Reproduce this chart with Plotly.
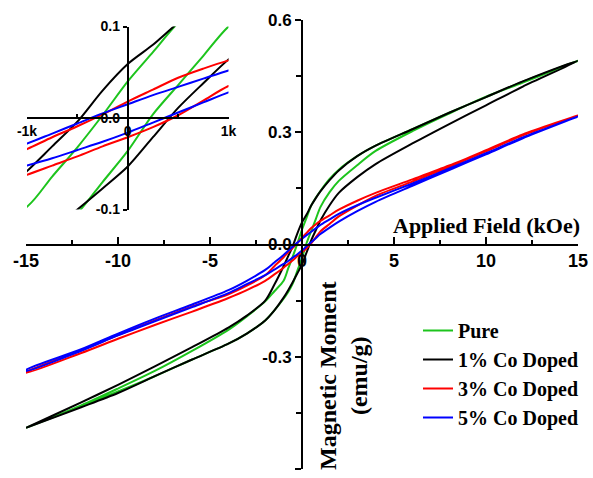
import plotly.graph_objects as go

# Applied field grid (kOe), ascending
H = [-15, -12, -10, -8, -6, -4, -3, -2, -1.5, -1, -0.75, -0.5, -0.25, 0,
     0.25, 0.5, 0.75, 1, 1.5, 2, 3, 4, 6, 8, 10, 12, 15]

# Magnetic moment (emu/g): descending-field branch and ascending-field branch
pure_desc = [-0.490, -0.430, -0.385, -0.338, -0.285, -0.228, -0.192, -0.152, -0.125, -0.097,
             -0.064, -0.032, 0.003, 0.040, 0.072, 0.104, 0.125, 0.143, 0.175, 0.200,
             0.236, 0.264, 0.308, 0.352, 0.394, 0.435, 0.491]
pure_asc = [-0.490, -0.432, -0.393, -0.352, -0.308, -0.265, -0.238, -0.203, -0.176, -0.145,
            -0.127, -0.104, -0.070, -0.036, 0.004, 0.036, 0.068, 0.100, 0.140, 0.170,
            0.212, 0.250, 0.303, 0.350, 0.395, 0.433, 0.491]
co1_desc = [-0.490, -0.422, -0.375, -0.326, -0.275, -0.222, -0.190, -0.150, -0.107, -0.058,
            -0.031, -0.004, 0.030, 0.059, 0.080, 0.104, 0.124, 0.142, 0.172, 0.198,
            0.236, 0.264, 0.308, 0.352, 0.394, 0.436, 0.491]
co1_asc = [-0.490, -0.435, -0.397, -0.352, -0.308, -0.265, -0.238, -0.203, -0.176, -0.142,
           -0.122, -0.100, -0.077, -0.053, -0.021, 0.011, 0.038, 0.064, 0.105, 0.138,
           0.180, 0.215, 0.270, 0.322, 0.372, 0.422, 0.491]
co3_desc = [-0.341, -0.283, -0.242, -0.203, -0.166, -0.133, -0.110, -0.082, -0.058, -0.034,
            -0.021, -0.009, 0.004, 0.018, 0.031, 0.044, 0.054, 0.063, 0.078, 0.093,
            0.117, 0.138, 0.174, 0.211, 0.252, 0.294, 0.345]
co3_asc = [-0.343, -0.290, -0.252, -0.215, -0.180, -0.143, -0.122, -0.097, -0.080, -0.062,
           -0.052, -0.042, -0.031, -0.021, -0.010, 0.003, 0.019, 0.035, 0.055, 0.075,
           0.104, 0.130, 0.168, 0.207, 0.249, 0.292, 0.345]
co5_desc = [-0.335, -0.280, -0.238, -0.198, -0.161, -0.122, -0.097, -0.068, -0.048, -0.028,
            -0.017, -0.006, 0.005, 0.015, 0.025, 0.034, 0.043, 0.052, 0.067, 0.082,
            0.105, 0.125, 0.163, 0.203, 0.244, 0.286, 0.342]
co5_asc = [-0.338, -0.284, -0.243, -0.205, -0.168, -0.130, -0.106, -0.082, -0.067, -0.052,
           -0.044, -0.035, -0.026, -0.016, -0.005, 0.006, 0.017, 0.028, 0.045, 0.061,
           0.089, 0.114, 0.157, 0.199, 0.241, 0.284, 0.342]

series_names = ["Pure", "1% Co Doped", "3% Co Doped", "5% Co Doped"]
series_desc = [pure_desc, co1_desc, co3_desc, co5_desc]
series_asc = [pure_asc, co1_asc, co3_asc, co5_asc]
series_colors = ["#1DC41D", "#000000", "#FF0000", "#0000FF"]

main_xticks = [-15, -10, -5, 0, 5, 10, 15]
main_xticktext = ["-15", "-10", "-5", "0", "5", "10", "15"]
main_xminor = [-12.5, -7.5, -2.5, 2.5, 7.5, 12.5]
main_yticks = [-0.6, -0.3, 0.0, 0.3, 0.6]
main_yticktext = ["-0.6", "-0.3", "0.0", "0.3", "0.6"]
main_yminor = [-0.45, -0.15, 0.15, 0.45]
inset_xticks = [-1, 0, 1]
inset_xticktext = ["-1k", "0", "1k"]
inset_yticks = [-0.1, 0.0, 0.1]
inset_yticktext = ["-0.1", "0.0", "0.1"]

W, Hpx = 593, 478
fig = go.Figure()

for name, d, a, c in zip(series_names, series_desc, series_asc, series_colors):
    xs = H[::-1] + H
    ys = d[::-1] + a
    fig.add_trace(go.Scatter(x=xs, y=ys, mode="lines", name=name,
                             line=dict(color=c, width=2, shape="spline", smoothing=0.8),
                             xaxis="x", yaxis="y"))
    fig.add_trace(go.Scatter(x=xs, y=ys, mode="lines", name=name, showlegend=False,
                             line=dict(color=c, width=2, shape="spline", smoothing=0.8),
                             xaxis="x2", yaxis="y2"))

# axes domains in paper units
mx0, mx1 = 26 / W, 578 / W
my0, my1 = 1 - 469 / Hpx, 1 - 20 / Hpx
ix0, ix1 = 27 / W, 228.5 / W
iy0, iy1 = 1 - 209.5 / Hpx, 1 - 26.5 / Hpx

xtickf = dict(family="Arial, Liberation Sans", size=18, color="black", weight="bold")
ytickf = dict(family="Arial, Liberation Sans", size=17, color="black", weight="bold")
itickf = dict(family="Arial, Liberation Sans", size=14, color="black", weight="bold")
serif = "Liberation Serif, Times New Roman, serif"

fig.update_layout(
    width=W, height=Hpx, margin=dict(l=0, r=0, t=0, b=0, autoexpand=False),
    paper_bgcolor="white", plot_bgcolor="rgba(0,0,0,0)",
    xaxis=dict(domain=[mx0, mx1], range=[-15, 15], anchor="free", position=(my0 + my1) / 2,
               automargin=False,
               showline=True, linecolor="black", linewidth=2, showgrid=False, zeroline=False,
               ticks="inside", ticklen=7, tickwidth=2, tickcolor="black",
               tickvals=main_xticks, ticktext=main_xticktext, tickfont=xtickf,
               minor=dict(tickvals=main_xminor, ticks="inside", ticklen=4, tickwidth=2,
                          tickcolor="black", showgrid=False)),
    yaxis=dict(domain=[my0, my1], range=[-0.6, 0.6], anchor="free", position=(mx0 + mx1) / 2,
               automargin=False,
               showline=True, linecolor="black", linewidth=2, showgrid=False, zeroline=False,
               ticks="outside", ticklen=6, tickwidth=2, tickcolor="black",
               tickvals=main_yticks, ticktext=main_yticktext, tickfont=ytickf,
               minor=dict(tickvals=main_yminor, ticks="outside", ticklen=5, tickwidth=2,
                          tickcolor="black", showgrid=False)),
    xaxis2=dict(domain=[ix0, ix1], range=[-1, 1], anchor="free", position=(iy0 + iy1) / 2,
                automargin=False,
                showline=True, linecolor="black", linewidth=2, showgrid=False, zeroline=False,
                ticks="inside", ticklen=3, tickwidth=1.5, tickcolor="black",
                tickvals=inset_xticks, ticktext=inset_xticktext, tickfont=itickf,
                minor=dict(tickvals=[-0.5, 0.5], ticks="inside", ticklen=3, tickwidth=1.5,
                           tickcolor="black", showgrid=False)),
    yaxis2=dict(domain=[iy0, iy1], range=[-0.1, 0.1], anchor="free", position=(ix0 + ix1) / 2,
                automargin=False,
                showline=True, linecolor="black", linewidth=2, showgrid=False, zeroline=False,
                ticks="outside", ticklen=4, tickwidth=1.5, tickcolor="black",
                tickvals=inset_yticks, ticktext=inset_yticktext, tickfont=itickf),
    legend=dict(x=418 / W, y=1 - 311 / Hpx, xanchor="left", yanchor="top",
                bgcolor="rgba(0,0,0,0)", tracegroupgap=0,
                font=dict(family=serif, size=20, color="black", weight="bold")),
    showlegend=True,
    annotations=[
        dict(text="Applied Field (kOe)", xref="paper", yref="paper",
             x=582 / W, y=1 - 225 / Hpx, xanchor="right", yanchor="middle", showarrow=False,
             font=dict(family=serif, size=22, color="black", weight="bold")),
        dict(text="Magnetic Moment<br>(emu/g)", xref="paper", yref="paper",
             x=343 / W, y=1 - 376 / Hpx, xanchor="center", yanchor="middle", showarrow=False,
             textangle=-90,
             font=dict(family=serif, size=24, color="black", weight="bold")),
    ],
)

fig.write_html("out.html")
